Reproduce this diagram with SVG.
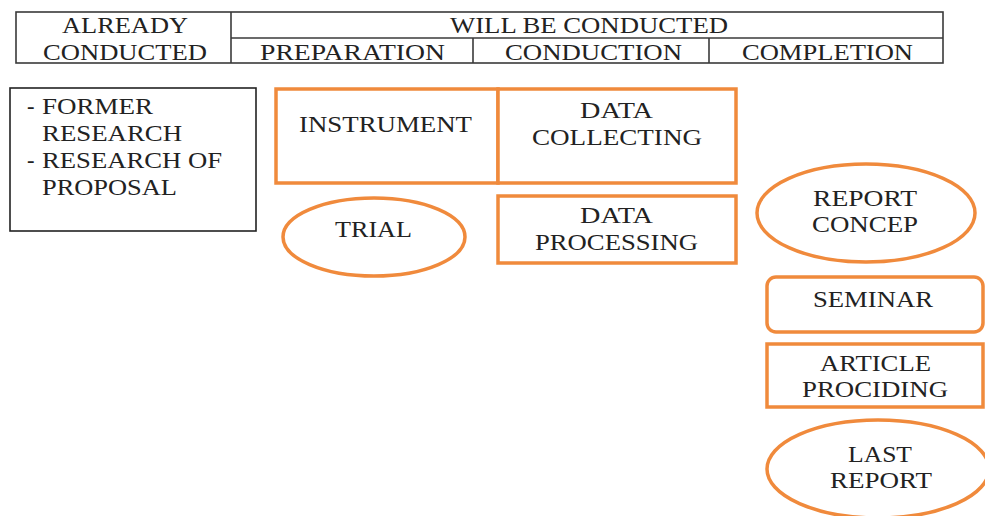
<svg xmlns="http://www.w3.org/2000/svg" width="985" height="516" viewBox="0 0 985 516">
<style>
text{font-family:'Liberation Serif','Times New Roman',Times,'Noto Serif','DejaVu Serif',Tinos,serif;font-size:22.5px;fill:#222;}
.hdr{fill:none;stroke:#3a3a3a;stroke-width:1.6;}
.blk{fill:#fff;stroke:#222;stroke-width:1.6;}
.org{fill:#fff;stroke:#F08A3C;stroke-width:3.5;}
</style>
<rect width="985" height="516" fill="#fff"/>
<g id="header">
<rect class="hdr" x="16" y="12" width="927" height="51"/>
<line class="hdr" x1="231" y1="12" x2="231" y2="63"/>
<line class="hdr" x1="231" y1="38" x2="943" y2="38"/>
<line class="hdr" x1="473" y1="38" x2="473" y2="63"/>
<line class="hdr" x1="709" y1="38" x2="709" y2="63"/>
<text x="62" y="33" textLength="126" lengthAdjust="spacingAndGlyphs">ALREADY</text>
<text x="43" y="60" textLength="164" lengthAdjust="spacingAndGlyphs">CONDUCTED</text>
<text x="450" y="33" textLength="278" lengthAdjust="spacingAndGlyphs">WILL BE CONDUCTED</text>
<text x="260" y="60" textLength="185" lengthAdjust="spacingAndGlyphs">PREPARATION</text>
<text x="505" y="60" textLength="177" lengthAdjust="spacingAndGlyphs">CONDUCTION</text>
<text x="742" y="60" textLength="171" lengthAdjust="spacingAndGlyphs">COMPLETION</text>
</g>
<g id="already">
<rect class="blk" x="10" y="88" width="246" height="143"/>
<text y="114"><tspan x="27">- </tspan><tspan x="42" textLength="111" lengthAdjust="spacingAndGlyphs">FORMER</tspan></text>
<text x="42" y="141" textLength="140" lengthAdjust="spacingAndGlyphs">RESEARCH</text>
<text y="168"><tspan x="27">- </tspan><tspan x="42" textLength="180" lengthAdjust="spacingAndGlyphs">RESEARCH OF</tspan></text>
<text x="42" y="195" textLength="135" lengthAdjust="spacingAndGlyphs">PROPOSAL</text>
</g>
<g id="instrument">
<rect class="org" x="276" y="89" width="222" height="94"/>
<text x="299" y="132" textLength="173" lengthAdjust="spacingAndGlyphs">INSTRUMENT</text>
</g>
<g id="data-collecting">
<rect class="org" x="498" y="89" width="238" height="94"/>
<text x="580" y="118" textLength="73" lengthAdjust="spacingAndGlyphs">DATA</text>
<text x="532" y="145" textLength="170" lengthAdjust="spacingAndGlyphs">COLLECTING</text>
</g>
<g id="trial">
<ellipse class="org" cx="374" cy="237" rx="91" ry="39"/>
<text x="335" y="237" textLength="77" lengthAdjust="spacingAndGlyphs">TRIAL</text>
</g>
<g id="data-processing">
<rect class="org" x="498" y="196" width="238" height="67"/>
<text x="580" y="223" textLength="73" lengthAdjust="spacingAndGlyphs">DATA</text>
<text x="535" y="250" textLength="163" lengthAdjust="spacingAndGlyphs">PROCESSING</text>
</g>
<g id="report-concep">
<ellipse class="org" cx="866" cy="213" rx="109" ry="49"/>
<text x="813" y="206" textLength="104" lengthAdjust="spacingAndGlyphs">REPORT</text>
<text x="812" y="232" textLength="106" lengthAdjust="spacingAndGlyphs">CONCEP</text>
</g>
<g id="seminar">
<rect class="org" x="767" y="277" width="216" height="55" rx="9"/>
<text x="813" y="307" textLength="120" lengthAdjust="spacingAndGlyphs">SEMINAR</text>
</g>
<g id="article">
<rect class="org" x="767" y="344" width="216" height="63"/>
<text x="820" y="371" textLength="111" lengthAdjust="spacingAndGlyphs">ARTICLE</text>
<text x="802" y="397" textLength="146" lengthAdjust="spacingAndGlyphs">PROCIDING</text>
</g>
<g id="last-report">
<ellipse class="org" cx="878" cy="469" rx="111" ry="49"/>
<text x="848" y="462" textLength="64" lengthAdjust="spacingAndGlyphs">LAST</text>
<text x="830" y="488" textLength="102" lengthAdjust="spacingAndGlyphs">REPORT</text>
</g>
<g id="connectors"></g>
</svg>
